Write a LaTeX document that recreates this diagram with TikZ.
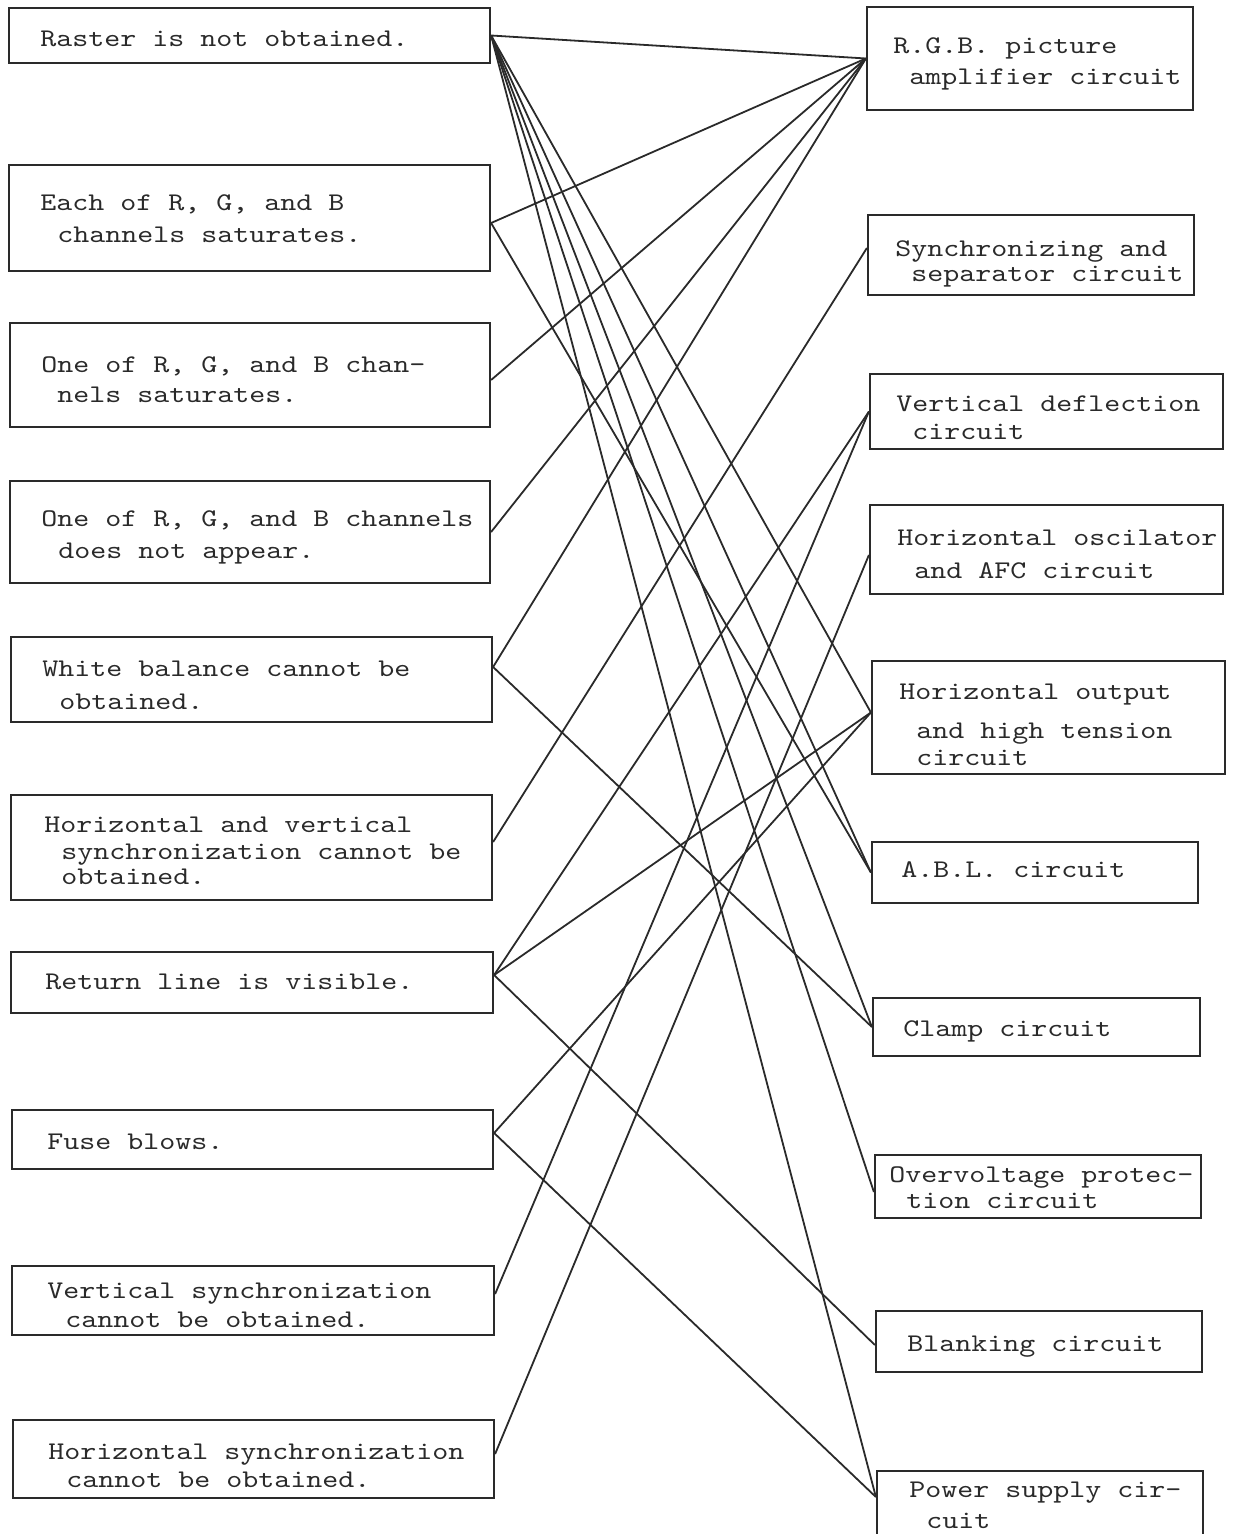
\documentclass[tikz,border=0pt]{standalone}
\usepackage{fontspec}
\setmonofont{lmmono10-regular.otf}[FakeStretch=1.2]
\usetikzlibrary{fit}
\definecolor{ink}{HTML}{2A2A2A}
\begin{document}
\begin{tikzpicture}[x=0.5pt,y=-0.5pt,
  box/.style={draw=ink, line width=1.1pt, inner sep=0pt, rectangle},
  txt/.style={anchor=base west, inner sep=0pt, text=ink, font=\ttfamily\fontsize{12.7}{15}\selectfont},
  link/.style={draw=ink, line width=0.9pt}]
\useasboundingbox (0,0) rectangle (1236,1534);
\clip (0,0) rectangle (1236,1534);
% left boxes
\node[box, fit={(9,8)(490,63)}] (L1) {};
\node[box, fit={(9,165)(490,271)}] (L2) {};
\node[box, fit={(10,323)(490,427)}] (L3) {};
\node[box, fit={(10,481)(490,583)}] (L4) {};
\node[box, fit={(11,637)(492,722)}] (L5) {};
\node[box, fit={(11,795)(492,900)}] (L6) {};
\node[box, fit={(11,952)(493,1013)}] (L7) {};
\node[box, fit={(12,1110)(493,1169)}] (L8) {};
\node[box, fit={(12,1266)(494,1335)}] (L9) {};
\node[box, fit={(13,1420)(494,1498)}] (L10) {};
% right boxes
\node[box, fit={(867,7)(1193,110)}] (R1) {};
\node[box, fit={(868,215)(1194,295)}] (R2) {};
\node[box, fit={(870,374)(1223,449)}] (R3) {};
\node[box, fit={(870,505)(1223,594)}] (R4) {};
\node[box, fit={(872,661)(1225,774)}] (R5) {};
\node[box, fit={(872,842)(1198,903)}] (R6) {};
\node[box, fit={(873,998)(1200,1056)}] (R7) {};
\node[box, fit={(875,1155)(1201,1218)}] (R8) {};
\node[box, fit={(876,1311)(1202,1372)}] (R9) {};
\node[box, fit={(877,1471)(1203,1560)}] (R10) {};
% left texts
\node[txt] (t1a) at (40,47) {Raster is not obtained.};
\node[txt] (t2a) at (40,211) {Each of R, G, and B};
\node[txt] (t2b) at (57,243) {channels saturates.};
\node[txt] (t3a) at (41,373) {One of R, G, and B chan-};
\node[txt] (t3b) at (57,403) {nels saturates.};
\node[txt] (t4a) at (41,526) {One of R, G, and B channels};
\node[txt] (t4b) at (58,558) {does not appear.};
\node[txt] (t5a) at (42,676) {White balance cannot be};
\node[txt] (t5b) at (59,709) {obtained.};
\node[txt] (t6a) at (44,832) {Horizontal and vertical};
\node[txt] (t6b) at (61,859) {synchronization cannot be};
\node[txt] (t6c) at (61,884) {obtained.};
\node[txt] (t7a) at (45,989) {Return line is visible.};
\node[txt] (t8a) at (47,1149) {Fuse blows.};
\node[txt] (t9a) at (47,1298) {Vertical synchronization};
\node[txt] (t9b) at (65,1327) {cannot be obtained.};
\node[txt] (t10a) at (48,1459) {Horizontal synchronization};
\node[txt] (t10b) at (66,1487) {cannot be obtained.};
% right texts
\node[txt] (s1a) at (893,54) {R.G.B. picture};
\node[txt] (s1b) at (909,85) {amplifier circuit};
\node[txt] (s2a) at (895,257) {Synchronizing and};
\node[txt] (s2b) at (911,282) {separator circuit};
\node[txt] (s3a) at (896,412) {Vertical deflection};
\node[txt] (s3b) at (912,439) {circuit};
\node[txt] (s4a) at (897,545) {Horizontal oscilator};
\node[txt] (s4b) at (914,578) {and AFC circuit};
\node[txt] (s5a) at (899,699) {Horizontal output};
\node[txt] (s5b) at (916,738) {and high tension};
\node[txt] (s5c) at (916,765) {circuit};
\node[txt] (s6a) at (901,877) {A.B.L. circuit};
\node[txt] (s7a) at (903,1036) {Clamp circuit};
\node[txt] (s8a) at (889,1182) {Overvoltage protec-};
\node[txt] (s8b) at (906,1208) {tion circuit};
\node[txt] (s9a) at (907,1351) {Blanking circuit};
\node[txt] (s10a) at (909,1497) {Power supply cir-};
\node[txt] (s10b) at (926,1528) {cuit};
% connectors
\draw[link] (L1.east) -- (R1.west);
\draw[link] (L1.east) -- ([yshift=2.5pt]R5.west);
\draw[link] (L1.east) -- (R6.west);
\draw[link] (L1.east) -- (R7.west);
\draw[link] (L1.east) -- ([yshift=-2.75pt]R8.west);
\draw[link] (L1.east) -- ([yshift=9.25pt]R10.west);
\draw[link] ([yshift=-2.5pt]L2.east) -- (R1.west);
\draw[link] ([yshift=-2.5pt]L2.east) -- (R6.west);
\draw[link] ([yshift=-2.5pt]L3.east) -- (R1.west);
\draw[link] (L4.east) -- (R1.west);
\draw[link] ([yshift=6.25pt]L5.east) -- (R1.west);
\draw[link] ([yshift=6.25pt]L5.east) -- (R7.west);
\draw[link] ([yshift=2.75pt]L6.east) -- ([yshift=3.5pt]R2.west);
\draw[link] ([yshift=3.75pt]L7.east) -- (R3.west);
\draw[link] ([yshift=3.75pt]L7.east) -- ([yshift=2.5pt]R5.west);
\draw[link] ([yshift=3.75pt]L7.east) -- ([yshift=-1.75pt]R9.west);
\draw[link] ([yshift=3.25pt]L8.east) -- ([yshift=2.5pt]R5.west);
\draw[link] ([yshift=3.25pt]L8.east) -- ([yshift=9.25pt]R10.west);
\draw[link] ([yshift=3.25pt]L9.east) -- (R3.west);
\draw[link] ([yshift=2.5pt]L10.east) -- ([yshift=-2.75pt]R4.west);
\end{tikzpicture}
\end{document}
